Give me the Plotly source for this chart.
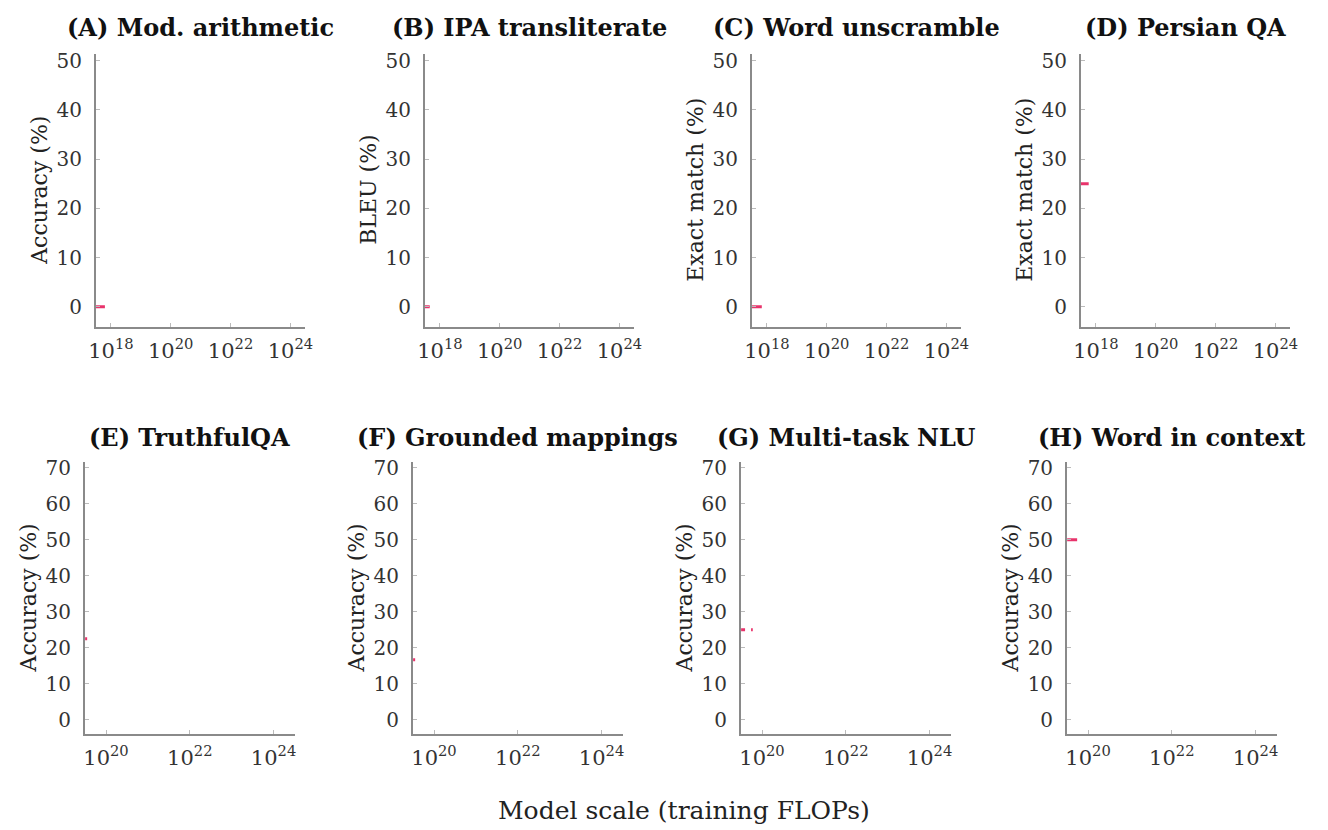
import plotly.graph_objects as go

# ---------------- data ----------------
panel_titles = ["(A) Mod. arithmetic", "(B) IPA transliterate", "(C) Word unscramble", "(D) Persian QA",
                "(E) TruthfulQA", "(F) Grounded mappings", "(G) Multi-task NLU", "(H) Word in context"]
y_titles = ["Accuracy (%)", "BLEU (%)", "Exact match (%)", "Exact match (%)",
            "Accuracy (%)", "Accuracy (%)", "Accuracy (%)", "Accuracy (%)"]
# random-chance baseline (%), drawn only partially in this frame
random_baseline = [0, 0, 0, 25, 22.5, 16.7, 25, 50]
baseline_from_exp = [17.5, 17.5, 17.5, 17.5, 19.5, 19.5, 19.5, 19.5]
baseline_to_exp = [17.8, 17.66, 17.83, 17.76, 19.55, 19.55, 19.78, 19.74]

top_xtick_exp = [18, 20, 22, 24]
bottom_xtick_exp = [20, 22, 24]
top_yticks = [0, 10, 20, 30, 40, 50]
bottom_yticks = [0, 10, 20, 30, 40, 50, 60, 70]

# ---------------- layout geometry ----------------
W, H = 1328, 830
top_left_px = [89, 422, 753, 1086]
bot_left_px = [78, 410, 742, 1072]
plot_w = 212
top_rows_px = (48, 323)
bot_rows_px = (459, 733)

FONT = "DejaVu Serif"
RED = "#e8336b"
AXIS_GRAY = "#8a8a8a"

fig = go.Figure()
layout = dict(
    width=W, height=H, margin=dict(l=0, r=0, t=0, b=0),
    paper_bgcolor="white", plot_bgcolor="white", showlegend=False,
    font=dict(family=FONT, size=21, color="#333333"),
)
annotations = []

for i in range(8):
    top = i < 4
    left = (top_left_px if top else bot_left_px)[i % 4]
    y0px, y1px = top_rows_px if top else bot_rows_px
    xd = [left / W, (left + plot_w) / W]
    yd = [1 - y1px / H, 1 - y0px / H]
    n = "" if i == 0 else str(i + 1)
    xt = top_xtick_exp if top else bottom_xtick_exp
    yt = top_yticks if top else bottom_yticks
    layout["xaxis" + n] = dict(
        domain=xd, anchor="y" + n, type="log",
        range=[17.5, 24.5] if top else [19.5, 24.5],
        tickvals=[10.0 ** e for e in xt],
        ticktext=["10<sup>%d</sup>" % e for e in xt],
        ticks="inside", ticklen=4, tickcolor="#bbbbbb", tickwidth=1,
        showline=True, linecolor=AXIS_GRAY, linewidth=2,
        showgrid=False, zeroline=False, ticklabelstandoff=4,
        tickfont=dict(family=FONT, size=21, color="#333333"),
    )
    layout["yaxis" + n] = dict(
        domain=yd, anchor="x" + n,
        range=[-4.03, 51.4] if top else [-3.86, 71.7],
        tickvals=yt, ticktext=[str(v) for v in yt],
        ticks="inside", ticklen=4, tickcolor="#bbbbbb", tickwidth=1,
        showline=True, linecolor=AXIS_GRAY, linewidth=2,
        showgrid=False, zeroline=False, ticklabelstandoff=8,
        tickfont=dict(family=FONT, size=20, color="#333333"),
    )
    fig.add_trace(go.Scatter(
        x=[10.0 ** baseline_from_exp[i], 10.0 ** baseline_to_exp[i]],
        y=[random_baseline[i], random_baseline[i]],
        mode="lines", line=dict(color=RED, width=3, dash="4px,6px" if i == 6 else "solid"),
        xaxis="x" + n, yaxis="y" + n, hoverinfo="skip",
    ))
    # panel title
    annotations.append(dict(
        text="<b>%s</b>" % panel_titles[i], xref="paper", yref="paper",
        x=(xd[0] + xd[1]) / 2, y=1 - ((22 if top else 435) / H),
        xanchor="center", yanchor="middle", showarrow=False,
        font=dict(family=FONT, size=24, color="#111111"),
    ))
    # y-axis title
    annotations.append(dict(
        text=y_titles[i], xref="paper", yref="paper",
        x=(left - 57) / W, y=(yd[0] + yd[1]) / 2, textangle=-90,
        xanchor="center", yanchor="middle", showarrow=False,
        font=dict(family=FONT, size=22, color="#222222"),
    ))

annotations.append(dict(
    text="Model scale (training FLOPs)", xref="paper", yref="paper",
    x=684 / W, y=1 - 810 / H, xanchor="center", yanchor="middle", showarrow=False,
    font=dict(family=FONT, size=25, color="#222222"),
))
layout["annotations"] = annotations
fig.update_layout(**layout)
fig.write_html("out.html")
